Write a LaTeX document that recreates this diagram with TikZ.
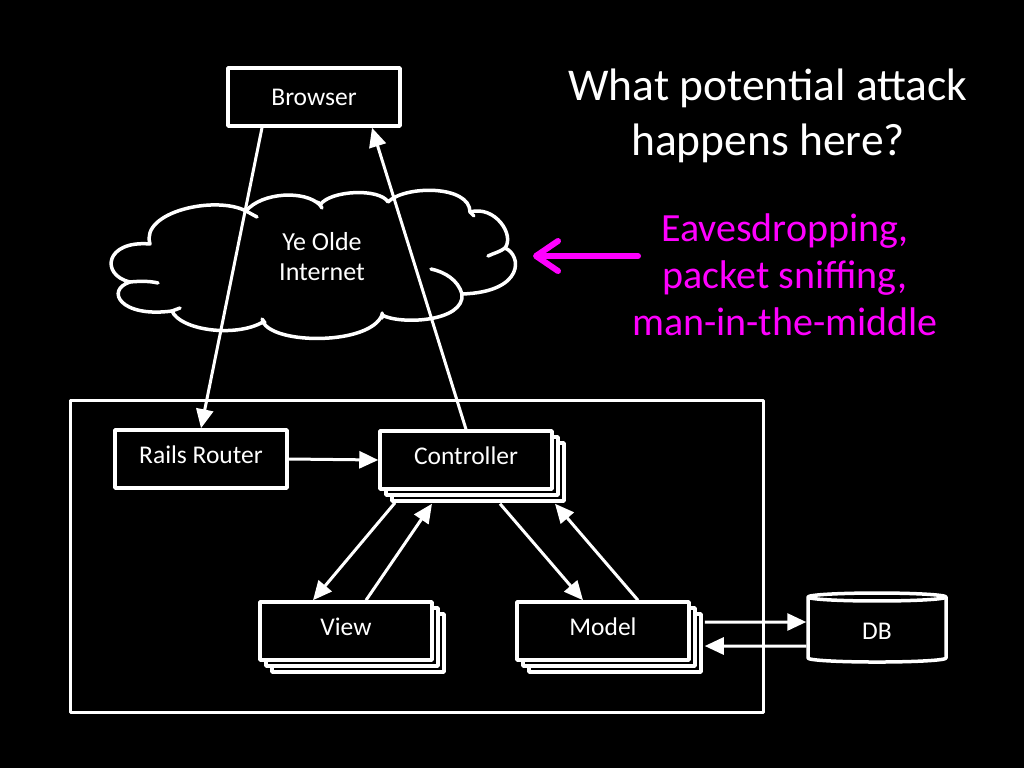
\documentclass[tikz,border=0pt]{standalone}
\usepackage{fontspec}
\setmainfont{Carlito}
\usepackage{tikz}
\usetikzlibrary{arrows.meta,calc,shapes.geometric,shadows}
\usetikzlibrary{positioning}
\definecolor{sniffpink}{RGB}{255,0,255}
\tikzset{box/.style={draw=white,line width=3.5pt,fill=black,text=white,minimum width=172pt,minimum height=58pt,inner sep=0pt,text depth=8pt},
  stack/.style={box,double copy shadow={shadow xshift=6pt,shadow yshift=-6pt,draw=white,fill=black,line width=3.5pt}},
  arr/.style={white,line width=3pt,-{Triangle[length=19pt,width=17pt]}}}

\begin{document}
\begin{tikzpicture}[x=1pt,y=-1pt,line join=round,font=\fontsize{25.5}{30}\selectfont]
\fill[black] (0,0) rectangle (1024,768);
% --- browser and the net
\node[box,text depth=0pt] (browser) at (314,97) {Browser};
\draw[white,line width=3.5pt,line cap=round] (150,244) .. controls (140,212) and (215,195) .. (246,211)
  .. controls (262,192) and (305,190) .. (320,205) .. controls (330,190) and (380,188) .. (388,202)
  .. controls (405,185) and (470,185) .. (470,212) .. controls (495,205) and (515,235) .. (505,248)
  .. controls (522,255) and (525,292) .. (462,294) .. controls (465,322) and (400,325) .. (382,315)
  .. controls (370,345) and (275,345) .. (263,322) .. controls (235,338) and (180,330) .. (172,311)
  .. controls (120,318) and (105,290) .. (130,282) .. controls (100,275) and (105,240) .. cycle;
% inner strokes of the cloud
\draw[white,line width=3.5pt,line cap=round] (130,282) .. controls (140,281) and (150,281) .. (158,283);
\draw[white,line width=3.5pt,line cap=round] (172,311) -- (180,308) (246,211) -- (257,217)
  (318,202) -- (322,208) (470,212) -- (474,216) (382,313) -- (382,318) (262,319) -- (265,323);
\draw[white,line width=3.5pt,line cap=round] (505,248) .. controls (500,252) and (494,253) .. (488,256);
\draw[white,line width=3.5pt,line cap=round] (462,294) .. controls (458,280) and (445,272) .. (431,269);
\node[text=white,align=center,font=\fontsize{26}{30}\selectfont] (net) at (322,257) {Ye Olde\\Internet};
% --- rails app
\draw[white,line width=3pt] (70,400) rectangle (763,712);
\node[box] (router) at (201,459) {Rails Router};
\node[stack] (ctrl) at (466,460) {Controller};
\node[stack] (view) at (346,631) {View};
\node[stack] (model) at (603,631) {Model};
\node[cylinder,shape border rotate=90,aspect=0.22,draw=white,line width=3.5pt,fill=black,text=white,minimum width=138pt,minimum height=69pt,text depth=0pt] (db) at (877,631) {DB};
% --- arrows
\draw[arr] ([xshift=-52pt]browser.south) -- (router.north);
\draw[arr] (ctrl.north) -- ([xshift=58pt]browser.south);
\draw[arr] (router.east) -- (ctrl.west);
\draw[arr] ([xshift=-71pt,yshift=-12pt]ctrl.south) -- ([xshift=-33pt]view.north);
\draw[arr] ([xshift=20pt]view.north) -- ([xshift=-34pt,yshift=-13pt]ctrl.south);
\draw[arr] ([xshift=34pt,yshift=-13pt]ctrl.south) -- ([xshift=-20pt]model.north);
\draw[arr] ([xshift=35pt]model.north) -- ([xshift=89pt,yshift=-13pt]ctrl.south);
\draw[arr] ([xshift=14pt,yshift=9pt]model.east) -- ([yshift=9pt]db.west);
\draw[arr] ([yshift=-15pt]db.west) -- ([xshift=14pt,yshift=-15pt]model.east);
% --- question and answer
\node[white,align=center,font=\fontsize{45.5}{55}\selectfont] (quest) at (768,116) {What potential attack\\happens here?};
\node[sniffpink,align=center,font=\fontsize{40}{47}\selectfont] (answer) at (785,275) {Eavesdropping,\\packet sniffing,\\man-in-the-middle};
\coordinate (sniff) at (638,256);
\coordinate (tap) at (533,256);
\draw[sniffpink,line width=6pt,line cap=round,-{Straight Barb[length=22pt,width=30pt,round]}] (sniff) -- (tap);
\end{tikzpicture}
\end{document}
